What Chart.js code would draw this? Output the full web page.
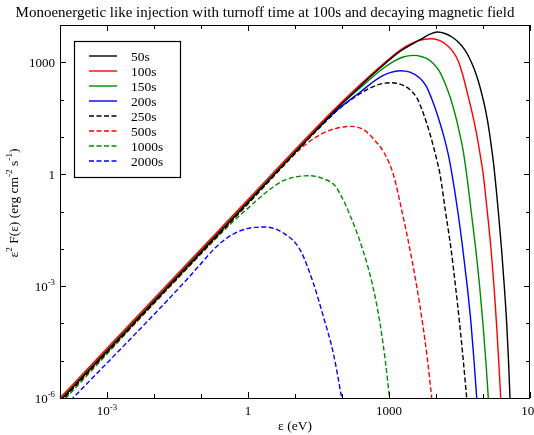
<!DOCTYPE html>
<html lang="en">
<head>
<meta charset="UTF-8">
<title>Monoenergetic like injection</title>
<script src="https://cdn.jsdelivr.net/npm/chart.js@4.4.1/dist/chart.umd.min.js"></script>
<style>
  html, body { margin: 0; padding: 0; background: #fff; }
</style>
</head>
<body>
<canvas id="canvas" width="534" height="435"></canvas>
<script>
// log10 of photon energy (eV) and log10 of eps^2 F(eps) (erg cm^-2 s^-1), one pair per time
const e50 = [-4, 0, 1.532, 1.957, 2.383, 2.809, 3.234, 3.660, 3.872, 4.028, 4.191, 4.340, 4.489, 4.617, 4.723, 4.819, 4.904, 4.979, 5.043, 5.096, 5.143, 5.187, 5.230, 5.326, 5.394, 5.453, 5.504, 5.543, 5.574];
const f50 = [-6.080, -0.756, 1.287, 1.836, 2.354, 2.847, 3.292, 3.606, 3.753, 3.812, 3.772, 3.678, 3.525, 3.324, 3.083, 2.802, 2.480, 2.131, 1.783, 1.434, 1.059, 0.657, 0.228, -1, -2, -3, -4, -5, -6];

const e100 = [-4, 0, 1.532, 1.957, 2.383, 2.809, 3.234, 3.517, 3.702, 3.909, 4.085, 4.234, 4.362, 4.479, 4.574, 4.660, 4.734, 4.802, 4.862, 4.915, 4.964, 5.004, 5.091, 5.170, 5.234, 5.287, 5.334, 5.377];
const f100 = [-6.0, -0.676, 1.354, 1.890, 2.399, 2.882, 3.324, 3.525, 3.606, 3.633, 3.579, 3.458, 3.284, 3.016, 2.641, 2.212, 1.836, 1.461, 1.086, 0.710, 0.335, 0, -1, -2, -3, -4, -5, -6];

const e150 = [-4, 0, 1.532, 1.957, 2.383, 2.809, 3.091, 3.298, 3.517, 3.702, 3.809, 3.936, 4.064, 4.191, 4.298, 4.404, 4.500, 4.574, 4.651, 4.749, 4.845, 4.928, 4.998, 5.060, 5.113];
const f150 = [-6.046, -0.721, 1.314, 1.850, 2.311, 2.775, 3.016, 3.142, 3.185, 3.150, 3.097, 2.976, 2.775, 2.440, 2.078, 1.622, 1.113, 0.657, 0, -1, -2, -3, -4, -5, -6];

const e200 = [-4, 0, 1.532, 1.957, 2.383, 2.809, 3.021, 3.234, 3.447, 3.660, 3.787, 3.915, 4.043, 4.170, 4.262, 4.340, 4.464, 4.570, 4.664, 4.745, 4.809, 4.866];
const f200 = [-6.059, -0.737, 1.287, 1.783, 2.198, 2.601, 2.721, 2.775, 2.735, 2.574, 2.373, 2.0, 1.542, 1.0, 0.523, 0, -1, -2, -3, -4, -5, -6];

const e250 = [-4, 0, 1.532, 1.957, 2.383, 2.596, 2.809, 3.021, 3.234, 3.447, 3.596, 3.702, 3.798, 3.883, 3.957, 4.021, 4.085, 4.202, 4.319, 4.415, 4.502, 4.581, 4.653];
const f250 = [-6.107, -0.783, 1.260, 1.770, 2.158, 2.311, 2.413, 2.453, 2.413, 2.265, 2.038, 1.729, 1.381, 1.032, 0.684, 0.362, 0, -1, -2, -3, -4, -5, -6];

const e500 = [-4, 0, 0.681, 1.106, 1.426, 1.745, 2.064, 2.206, 2.489, 2.702, 2.883, 3.091, 3.277, 3.443, 3.589, 3.715, 3.821, 3.909];
const f500 = [-6.121, -0.796, 0.121, 0.670, 0.979, 1.180, 1.273, 1.282, 1.166, 0.898, 0.603, 0, -1, -2, -3, -4, -5, -6];

const e1000 = [-4, -0.383, 0.043, 0.362, 0.751, 1.043, 1.319, 1.574, 1.851, 1.979, 2.138, 2.436, 2.655, 2.809, 2.921, 3.011];
const f1000 = [-6.169, -1.349, -0.863, -0.509, -0.174, -0.067, -0.040, -0.107, -0.308, -0.576, -1, -2, -3, -4, -5, -6];

const e2000 = [-4, -3.723, -1.304, -1.021, -0.666, -0.313, 0.043, 0.362, 0.751, 1.106, 1.389, 1.602, 1.815, 1.994];
const f2000 = [-6.36, -6, -2.828, -2.426, -1.936, -1.603, -1.442, -1.416, -1.576, -2.024, -2.917, -3.812, -4.794, -6];

// axis decades and which ones get a label
const xDecades = [-4, -3, -2, -1, 0, 1, 2, 3, 4, 5, 6];
const xLabelled = [-3, 0, 3, 6];
const yDecades = [-6, -5, -4, -3, -2, -1, 0, 1, 2, 3, 4];
const yLabelled = [-6, -3, 0, 3];

const serif = "'Liberation Serif', 'DejaVu Serif', serif";

function points(le, lf) {
  return le.map((v, i) => ({ x: Math.pow(10, v), y: Math.pow(10, lf[i]) }));
}

const dash = [5, 2.5];
const series = [
  { label: '50s', e: e50, f: f50, color: '#000000', dash: [] },
  { label: '100s', e: e100, f: f100, color: '#ff0000', dash: [] },
  { label: '150s', e: e150, f: f150, color: '#008c00', dash: [] },
  { label: '200s', e: e200, f: f200, color: '#0000ff', dash: [] },
  { label: '250s', e: e250, f: f250, color: '#000000', dash: dash },
  { label: '500s', e: e500, f: f500, color: '#ff0000', dash: dash },
  { label: '1000s', e: e1000, f: f1000, color: '#008c00', dash: dash },
  { label: '2000s', e: e2000, f: f2000, color: '#0000ff', dash: dash }
];

// text with raised parts, e.g. 10^-3
function richWidth(ctx, parts, size) {
  let w = 0;
  for (const p of parts) {
    ctx.font = (p.sup ? size * 0.68 : size) + 'px ' + serif;
    w += ctx.measureText(p.t).width;
  }
  return w;
}
function richText(ctx, parts, x, y, size, align) {
  const w = richWidth(ctx, parts, size);
  let cx = align === 'center' ? x - w / 2 : align === 'right' ? x - w : x;
  ctx.textAlign = 'left';
  ctx.textBaseline = 'alphabetic';
  for (const p of parts) {
    ctx.font = (p.sup ? size * 0.68 : size) + 'px ' + serif;
    ctx.fillText(p.t, cx, p.sup ? y - size * 0.42 : y);
    cx += ctx.measureText(p.t).width;
  }
}
function powLabel(p) {
  if (p === 0) return [{ t: '1' }];
  if (p === 3) return [{ t: '1000' }];
  return [{ t: '10' }, { t: (p < 0 ? '-' : '') + Math.abs(p), sup: true }];
}

const decorations = {
  id: 'decorations',
  afterDraw(chart) {
    const { ctx, chartArea: a } = chart;
    const xs = chart.scales.x, ys = chart.scales.y;
    ctx.save();
    ctx.fillStyle = '#000';
    ctx.strokeStyle = '#000';
    ctx.lineWidth = 1;
    ctx.setLineDash([]);

    // frame
    ctx.strokeRect(a.left + 0.5, a.top + 0.5, a.right - a.left - 1, a.bottom - a.top);

    // inward ticks on all four sides
    ctx.beginPath();
    for (const p of xDecades) {
      const px = Math.round(xs.getPixelForValue(Math.pow(10, p))) + 0.5;
      const len = xLabelled.includes(p) ? 6 : 4;
      ctx.moveTo(px, a.bottom); ctx.lineTo(px, a.bottom - len);
      ctx.moveTo(px, a.top); ctx.lineTo(px, a.top + len);
    }
    for (const p of yDecades) {
      const py = Math.round(ys.getPixelForValue(Math.pow(10, p))) + 0.5;
      const len = yLabelled.includes(p) ? 6 : 4;
      ctx.moveTo(a.left, py); ctx.lineTo(a.left + len, py);
      ctx.moveTo(a.right, py); ctx.lineTo(a.right - len, py);
    }
    ctx.stroke();

    // tick labels
    for (const p of xLabelled) {
      richText(ctx, powLabel(p), xs.getPixelForValue(Math.pow(10, p)), a.bottom + 17, 13, 'center');
    }
    for (const p of yLabelled) {
      richText(ctx, powLabel(p), a.left - 5, ys.getPixelForValue(Math.pow(10, p)) + 4.5, 13, 'right');
    }

    // title and axis titles
    richText(ctx, [{ t: 'Monoenergetic like injection with turnoff time at 100s and decaying magnetic field' }], 265, 16.5, 15, 'center');
    richText(ctx, [{ t: '\u03b5 (eV)' }], (a.left + a.right) / 2, 430, 13.5, 'center');
    ctx.save();
    ctx.translate(18, 203);
    ctx.rotate(-Math.PI / 2);
    richText(ctx, [
      { t: '\u03b5' }, { t: '2', sup: true }, { t: ' F(\u03b5) (erg cm' }, { t: '-2', sup: true },
      { t: ' s' }, { t: '-1', sup: true }, { t: ')' }
    ], 0, 0, 13.5, 'center');
    ctx.restore();

    // legend
    const lx0 = 74.5, ly0 = 41.5, lx1 = 180.5, ly1 = 177.5;
    ctx.fillStyle = '#fff';
    ctx.fillRect(lx0, ly0, lx1 - lx0, ly1 - ly0);
    ctx.strokeStyle = '#000';
    ctx.lineWidth = 1.2;
    ctx.strokeRect(lx0, ly0, lx1 - lx0, ly1 - ly0);
    chart.data.datasets.forEach((ds, i) => {
      const ry = 56 + i * 15;
      ctx.strokeStyle = ds.borderColor;
      ctx.lineWidth = ds.borderWidth;
      ctx.setLineDash(ds.borderDash || []);
      ctx.beginPath();
      ctx.moveTo(89, ry); ctx.lineTo(117, ry);
      ctx.stroke();
      ctx.setLineDash([]);
      ctx.fillStyle = '#000';
      richText(ctx, [{ t: ds.label }], 131, ry + 4.5, 13.5, 'left');
    });
    ctx.restore();
  }
};

new Chart(document.getElementById('canvas'), {
  type: 'line',
  data: {
    datasets: series.map(s => ({
      label: s.label,
      data: points(s.e, s.f),
      borderColor: s.color,
      borderWidth: 1.4,
      borderDash: s.dash,
      pointRadius: 0,
      fill: false,
      cubicInterpolationMode: 'monotone'
    }))
  },
  options: {
    responsive: false,
    animation: false,
    devicePixelRatio: 1,
    layout: { padding: { left: 60, right: 4, top: 25, bottom: 37 } },
    plugins: { legend: { display: false }, title: { display: false }, tooltip: { enabled: false } },
    scales: {
      x: { type: 'logarithmic', min: 1e-4, max: 1e6, display: false },
      y: { type: 'logarithmic', min: 1e-6, max: 1e4, display: false }
    }
  },
  plugins: [decorations]
});
</script>
</body>
</html>
